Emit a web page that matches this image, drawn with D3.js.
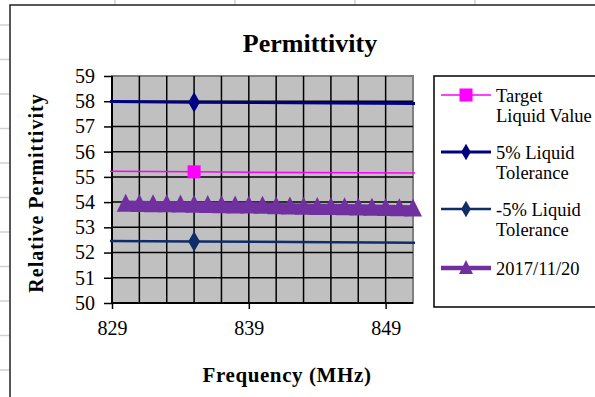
<!DOCTYPE html>
<html><head><meta charset="utf-8">
<script src="https://cdn.jsdelivr.net/npm/d3@7"></script>
<style>body{margin:0;background:#fff}svg{display:block}text{font-family:"Liberation Serif","Times New Roman",serif}</style>
</head><body>
<script>
// ---- data ----
const targetFreq = [450, 835, 900];
const targetValue = [56.7, 55.2, 55.0];
const upperValue = [59.535, 57.96, 57.75];
const lowerValue = [53.865, 52.44, 52.25];
const measFreq = [830,831,832,833,834,835,836,837,838,839,840,841,842,843,844,845,846,847,848,849,850,851];
const measValue = [53.90,53.89,53.88,53.88,53.87,53.86,53.85,53.84,53.83,53.83,53.82,53.80,53.79,53.78,53.77,53.77,53.76,53.75,53.74,53.73,53.72,53.71];
const xTicks = [829, 839, 849];
const xGrid = [829,831,833,835,837,839,841,843,845,847,849,851];
const yTicks = [50,51,52,53,54,55,56,57,58,59];
const legendLabels = [["Target","Liquid Value"],["5% Liquid","Tolerance"],["-5% Liquid","Tolerance"],["2017/11/20"]];

const W = 595, H = 397;
const svg = d3.select("body").append("svg").attr("width", W).attr("height", H);

// spreadsheet background lines
const bg = svg.append("g").attr("stroke", "#d0d0d0").attr("stroke-width", 1.5);
[115,235,355,475].forEach(x => bg.append("line").attr("x1", x).attr("x2", x).attr("y1", 0).attr("y2", 5));
d3.range(0, 11).forEach(i => { const y = 25 + i * 34.5; bg.append("line").attr("x1", 0).attr("x2", 10).attr("y1", y).attr("y2", y); });

// chart area
svg.append("rect").attr("x", 10).attr("y", 5).attr("width", 620).attr("height", 420)
  .attr("fill", "#fff").attr("stroke", "#222").attr("stroke-width", 1.5);

const L = 112, R = 413, T = 76, B = 303;
const x = d3.scaleLinear().domain([829, 851]).range([L, R]);
const y = d3.scaleLinear().domain([50, 59]).range([B, T]);

svg.append("rect").attr("x", L).attr("y", T).attr("width", R - L).attr("height", B - T)
  .attr("fill", "#c0c0c0").attr("stroke", "#808080").attr("stroke-width", 2);

// gridlines
const grid = svg.append("g").attr("stroke", "#000").attr("stroke-width", 1.5);
yTicks.slice(1, -1).forEach(v => grid.append("line").attr("x1", L).attr("x2", R).attr("y1", y(v)).attr("y2", y(v)));
xGrid.slice(1, -1).forEach(v => grid.append("line").attr("x1", x(v)).attr("x2", x(v)).attr("y1", T).attr("y2", B));

// axes
const yAxis = svg.append("g").attr("transform", `translate(${L},0)`)
  .call(d3.axisLeft(y).tickValues(yTicks).tickSize(8).tickPadding(9).tickFormat(d3.format("d")));
const xAxis = svg.append("g").attr("transform", `translate(0,${B})`)
  .call(d3.axisBottom(x).tickValues(xTicks).tickSize(6).tickPadding(12).tickFormat(d3.format("d")));
[yAxis, xAxis].forEach(a => {
  a.select(".domain").attr("stroke", "#000").attr("stroke-width", 2);
  a.selectAll(".tick line").attr("stroke", "#000").attr("stroke-width", 1.5);
  a.selectAll("text").attr("fill", "#000").style("font-size", "20px").style("font-family", "'Liberation Serif',serif");
});
yAxis.select(".domain").attr("d", `M0,${T}V${B}`);
xAxis.select(".domain").attr("d", `M${L},0H${R}`);

// clip
svg.append("clipPath").attr("id", "clip").append("rect").attr("x", L - 2).attr("y", T - 20).attr("width", R - L + 4).attr("height", B - T + 40);
const plot = svg.append("g").attr("clip-path", "url(#clip)");

const line = d3.line().x(d => x(d[0])).y(d => y(d[1]));
const sq = d3.symbol().type(d3.symbolSquare).size(170);
const dia = d3.symbol().type(d3.symbolDiamond).size(120);

const series = [
  {vals: targetValue, color: "#ff00ff", w: 1.5, sym: sq},
  {vals: upperValue, color: "#000080", w: 3, sym: dia},
  {vals: lowerValue, color: "#0f2d69", w: 2.5, sym: dia}
];
series.forEach(s => {
  const pts = targetFreq.map((f, i) => [f, s.vals[i]]);
  plot.append("path").attr("d", line(pts)).attr("fill", "none").attr("stroke", s.color).attr("stroke-width", s.w);
  plot.selectAll(null).data(pts).enter().append("path")
    .attr("d", s.sym).attr("transform", d => `translate(${x(d[0])},${y(d[1])})`).attr("fill", s.color);
});

// measured series
const mPts = measFreq.map((f, i) => [f, measValue[i]]);
const purple = "#7030a0";
svg.append("path").attr("d", line(mPts)).attr("fill", "none").attr("stroke", purple).attr("stroke-width", 8.5);
const tri = (cx, cy, w, h) => `M${cx},${cy - h / 2}L${cx + w / 2},${cy + h / 2}L${cx - w / 2},${cy + h / 2}Z`;
svg.selectAll(null).data(mPts).enter().append("path")
  .attr("d", d => tri(x(d[0]), y(d[1]) - 2, 18, 18)).attr("fill", purple);

// title
svg.append("text").attr("x", 310).attr("y", 52).attr("text-anchor", "middle")
  .style("font-size", "26px").style("font-weight", "bold").text("Permittivity");
svg.append("text").attr("x", 287).attr("y", 382).attr("text-anchor", "middle")
  .style("font-size", "21px").style("font-weight", "bold").style("letter-spacing", "0.6px").text("Frequency (MHz)");
svg.append("text").attr("transform", "translate(43,193) rotate(-90)").attr("text-anchor", "middle")
  .style("font-size", "20px").style("font-weight", "bold").style("letter-spacing", "1px").text("Relative Permittivity");

// legend
svg.append("rect").attr("x", 434).attr("y", 76).attr("width", 200).attr("height", 231)
  .attr("fill", "#fff").attr("stroke", "#000").attr("stroke-width", 1.5);
const legY = [95, 152, 209, 268];
const legStyles = [
  {color: "#ff00ff", w: 1.5, m: "sq"},
  {color: "#000080", w: 3, m: "dia"},
  {color: "#0f2d69", w: 2.5, m: "dia"},
  {color: purple, w: 4.5, m: "tri"}
];
legendLabels.forEach((lab, i) => {
  const ly = legY[i], st = legStyles[i];
  svg.append("line").attr("x1", 441).attr("x2", 491).attr("y1", ly).attr("y2", ly).attr("stroke", st.color).attr("stroke-width", st.w);
  const g = svg.append("path").attr("fill", st.color);
  if (st.m === "sq") g.attr("d", sq).attr("transform", `translate(466,${ly})`);
  else if (st.m === "dia") g.attr("d", d3.symbol().type(d3.symbolDiamond).size(80)).attr("transform", `translate(466,${ly})`);
  else g.attr("d", tri(466, ly - 1, 14, 14));
  lab.forEach((t, j) => svg.append("text").attr("x", 496).attr("y", ly + 7 + j * 20)
    .style("font-size", "18.5px").text(t));
});
</script>
</body></html>
